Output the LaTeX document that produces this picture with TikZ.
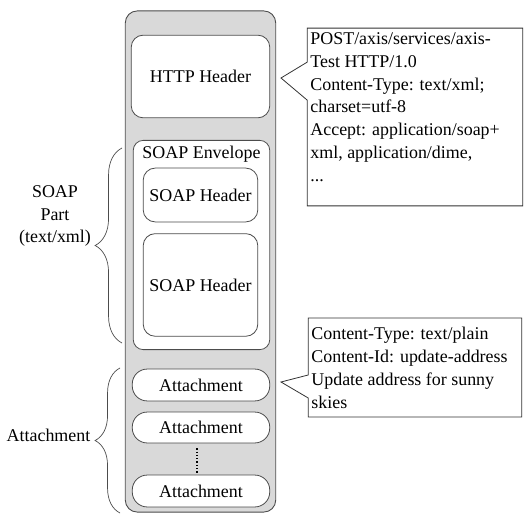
\documentclass[tikz,border=0pt]{standalone}
\usepackage{fontspec}
\setmainfont{Liberation Serif}
\usetikzlibrary{decorations.pathreplacing,calc,positioning}
\usepackage{xcolor}
\newcommand{\myfont}{\fontsize{18}{23}\selectfont}
\colorlet{linegray}{black!70}
\colorlet{bggray}{black!15}
\tikzset{
    outersty/.style={draw=linegray,fill=bggray,rectangle,rounded corners=12,line width=0.9pt,anchor=center},
    boxsty/.style={draw=linegray,fill=white,rectangle,rounded corners=12,line width=0.8pt,anchor=center,font=\myfont,inner sep=0pt},
    pillsty/.style={boxsty,rounded corners=15,minimum width=138,minimum height=32},
    notesty/.style={rectangle,inner sep=0pt,anchor=center},
    notetxtsty/.style={inner sep=0pt,align=left,anchor=north west,font=\myfont},
    outlinesty/.style={draw=black!80,fill=white,line width=0.8pt,line join=miter},
    labelsty/.style={inner sep=0pt,align=center,anchor=center,font=\myfont},
    bracesty/.style={decorate,decoration={brace,amplitude=#1},draw=linegray,line width=0.7pt},
    bracesty/.default=26,
    dotsty/.style={draw=black,dotted,line width=1.3pt},
}

\begin{document}
\begin{tikzpicture}[x=1bp,y=-1bp,>=latex]
\useasboundingbox (0,0) rectangle (524,515);

\node[outersty, minimum width=151, minimum height=503] (msg) at (200.5,261.5) {};
\node[boxsty, minimum width=139, minimum height=83] (http) at (200.5,76.5) {HTTP Header};
\node[boxsty, rounded corners=10, minimum width=137, minimum height=210] (env) at (201.5,245) {};
\node[labelsty, anchor=north] (envlbl) at ($(env.north)+(0,6)$) {SOAP Envelope};
\node[boxsty, minimum width=115, minimum height=54] (soaphd) at (200.5,195) {SOAP Header};
\node[boxsty, minimum width=115, minimum height=103, below=11pt of soaphd] (soapbd) {SOAP Header};

\node[pillsty] (att1) at (201,385) {Attachment};
\node[pillsty, minimum height=31] (att2) at (201,427.5) {Attachment};
\node[pillsty] (att3) at (201,491) {Attachment};
\draw[dotsty, shorten <=5, shorten >=2] ([xshift=-4]att2.south) -- ([xshift=-4]att3.north);

% callouts
\node[notesty, minimum width=216, minimum height=178] (httpbox) at (415,117) {};
\coordinate (httptip) at (281,78);
\draw[outlinesty] (httpbox.north west) -- ($(httpbox.north west)+(0,34)$) -- (httptip)
  -- ($(httpbox.north west)+(0,72)$) -- (httpbox.south west) -- (httpbox.south east)
  -- (httpbox.north east) -- cycle;
\node[notetxtsty] (httptxt) at ($(httpbox.north west)+(3,4)$)
  {POST/axis/services/axis-\\Test HTTP/1.0\\Content-Type: text/xml;\\charset=utf-8\\Accept: application/soap+\\xml, application/dime,\\...};

\node[notesty, minimum width=214, minimum height=99] (attbox) at (415,367.5) {};
\coordinate (atttip) at (281,382);
\draw[outlinesty] (attbox.north west) -- ($(attbox.north west)+(0,57)$) -- (atttip)
  -- ($(attbox.north west)+(0,80)$) -- (attbox.south west) -- (attbox.south east)
  -- (attbox.north east) -- cycle;
\node[notetxtsty] (atttxt) at ($(attbox.north west)+(3,9)$)
  {Content-Type: text/plain\\Content-Id: update-address\\Update address for sunny\\skies};

% braces
\draw[bracesty=27] (122,343) -- (122,148);
\draw[bracesty=25] (120,513) -- (120,368);
\node[labelsty] (soaplbl) at (55,216) {SOAP\\Part\\(text/xml)};
\node[labelsty] (attlbl) at (48.5,435) {Attachment};
\end{tikzpicture}
\end{document}
